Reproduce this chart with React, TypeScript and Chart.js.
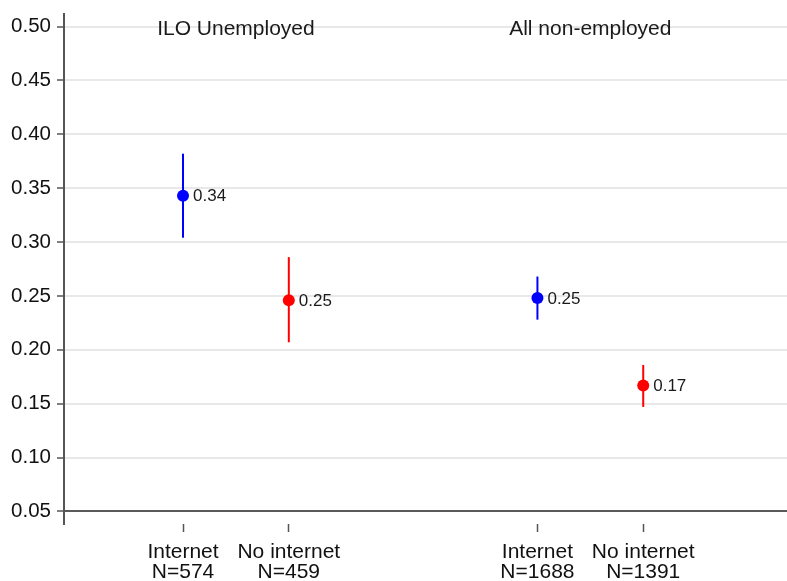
import React, { useEffect, useRef } from "react";
import { Chart, registerables } from "chart.js";

Chart.register(...registerables);

// ---- data ----
const categories = ["Internet", "No internet", "Internet", "No internet"];
const sampleSizes = ["N=574", "N=459", "N=1688", "N=1391"];
const xPositions = [1, 2, 4.35, 5.35];
const groupOf = [0, 0, 1, 1];
const groupNames = ["ILO Unemployed", "All non-employed"];
const means = [0.343, 0.246, 0.248, 0.167];
const ciLow = [0.304, 0.207, 0.228, 0.147];
const ciHigh = [0.382, 0.286, 0.268, 0.186];
const pointColors = ["#0000ff", "#ff0000", "#0000ff", "#ff0000"];
const yTicks = [0.05, 0.1, 0.15, 0.2, 0.25, 0.3, 0.35, 0.4, 0.45, 0.5];

const FONT = "'Liberation Sans', Arial, sans-serif";

const errorBarPlugin = {
  id: "errorBars",
  beforeDatasetsDraw(chart: any) {
    const { ctx, scales } = chart;
    const xs = scales.x;
    const ys = scales.y;
    ctx.save();
    ctx.lineWidth = 2;
    xPositions.forEach((xv, i) => {
      const px = xs.getPixelForValue(xv);
      ctx.strokeStyle = pointColors[i];
      ctx.beginPath();
      ctx.moveTo(px, ys.getPixelForValue(ciLow[i]));
      ctx.lineTo(px, ys.getPixelForValue(ciHigh[i]));
      ctx.stroke();
    });
    ctx.restore();
  },
  afterDatasetsDraw(chart: any) {
    const { ctx, scales, chartArea } = chart;
    const xs = scales.x;
    const ys = scales.y;
    ctx.save();
    ctx.fillStyle = "#1a1a1a";
    ctx.textBaseline = "middle";
    ctx.textAlign = "left";
    ctx.font = `17px ${FONT}`;
    xPositions.forEach((xv, i) => {
      const px = xs.getPixelForValue(xv);
      const py = ys.getPixelForValue(means[i]);
      ctx.fillText(means[i].toFixed(2), px + 10, py + 1);
    });
    ctx.font = `21px ${FONT}`;
    ctx.textAlign = "center";
    groupNames.forEach((name, g) => {
      const members = xPositions.filter((_, i) => groupOf[i] === g);
      const mid = members.reduce((a, b) => a + b, 0) / members.length;
      ctx.fillText(name, xs.getPixelForValue(mid), chartArea.top + 15);
    });
    ctx.restore();
  },
};

export default function App() {
  const canvasRef = useRef<HTMLCanvasElement | null>(null);

  useEffect(() => {
    document.body.style.margin = "0";
    const canvas = canvasRef.current;
    if (!canvas) return;
    Chart.defaults.font.family = FONT;
    const chart = new Chart(canvas, {
      type: "scatter",
      data: {
        datasets: [
          {
            data: xPositions.map((x, i) => ({ x, y: means[i] })),
            pointRadius: 6,
            pointHoverRadius: 6,
            pointBackgroundColor: pointColors,
            pointBorderColor: pointColors,
            pointBorderWidth: 0,
            showLine: false,
          },
        ],
      },
      options: {
        animation: false,
        responsive: true,
        maintainAspectRatio: false,
        layout: { autoPadding: false, padding: { top: 14, right: 0, left: 0, bottom: 0 } },
        plugins: { legend: { display: false }, tooltip: { enabled: false } },
        scales: {
          x: {
            type: "linear",
            min: -0.125,
            max: 6.709,
            afterBuildTicks: (scale: any) => {
              scale.ticks = xPositions.map((v) => ({ value: v }));
            },
            afterFit: (scale: any) => {
              scale.height = 57;
              scale.paddingLeft = 0;
              scale.paddingRight = 0;
            },
            border: { display: false },
            grid: {
              drawOnChartArea: false,
              drawTicks: true,
              tickLength: 8,
              tickColor: "#555555",
              tickWidth: 1.5,
            },
            ticks: {
              padding: 10,
              color: "#111111",
              font: { size: 21, lineHeight: 0.96 },
              maxRotation: 0,
              autoSkip: false,
              callback: (_v: any, index: number) => [categories[index], sampleSizes[index]],
            },
          },
          y: {
            type: "linear",
            min: 0.0384,
            max: 0.5116,
            afterBuildTicks: (scale: any) => {
              scale.ticks = yTicks.map((v) => ({ value: v }));
            },
            afterFit: (scale: any) => {
              scale.width = 64;
              scale.paddingTop = 0;
              scale.paddingBottom = 0;
            },
            border: { display: true, color: "#555555", width: 2 },
            grid: {
              color: (c: any) =>
                c.tick && Math.abs(c.tick.value - 0.05) < 1e-6 ? "#5a5a5a" : "#e8e8e8",
              lineWidth: 2,
              drawTicks: true,
              tickLength: 7,
              tickColor: "#555555",
              tickWidth: 1.5,
            },
            ticks: {
              padding: 6,
              color: "#111111",
              font: { size: 20.5 },
              autoSkip: false,
              callback: (v: any) => Number(v).toFixed(2),
            },
          },
        },
      },
      plugins: [errorBarPlugin],
    });
    return () => chart.destroy();
  }, []);

  return (
    <div style={{ width: 787, height: 581, position: "relative" }}>
      <canvas ref={canvasRef} />
    </div>
  );
}
